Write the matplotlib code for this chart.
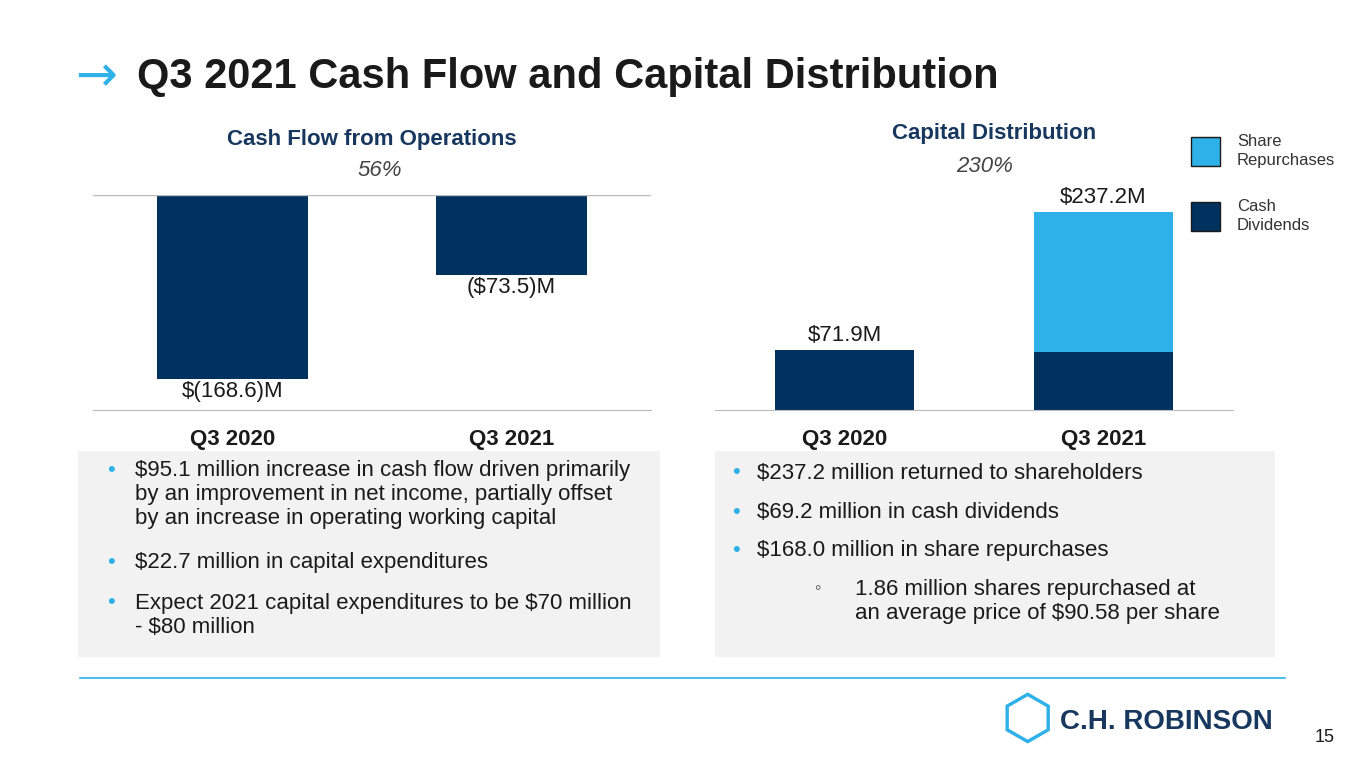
import matplotlib
matplotlib.use("Agg")
import matplotlib.pyplot as plt
from matplotlib.patches import Rectangle

NAVY = "#00325F"
LIGHT = "#2DB1E8"
GREY = "#F2F2F2"

periods = ["Q3 2020", "Q3 2021"]
cash_flow = [-168.6, -73.5]
cash_labels = ["$(168.6)M", "($73.5)M"]
dividends = [71.9, 69.2]
repurchases = [0.0, 168.0]
dist_labels = ["$71.9M", "$237.2M"]

left_bullets = [
    ("•", "$95.1 million increase in cash flow driven primarily\nby an improvement in net income, partially offset\nby an increase in operating working capital"),
    ("•", "$22.7 million in capital expenditures"),
    ("•", "Expect 2021 capital expenditures to be $70 million\n- $80 million"),
]
right_bullets = [
    ("•", "$237.2 million returned to shareholders", 0),
    ("•", "$69.2 million in cash dividends", 0),
    ("•", "$168.0 million in share repurchases", 0),
    ("◦", "1.86 million shares repurchased at\nan average price of $90.58 per share", 1),
]

W, H = 1365, 768
fig = plt.figure(figsize=(13.65, 7.68), dpi=100)
plt.rcParams["font.family"] = ["Liberation Sans", "DejaVu Sans"]

def fx(px): return px / W
def fy(py): return 1 - py / H

# title
fig.text(fx(75), fy(77), "→", fontsize=36, color=LIGHT, va="center", ha="left", family="DejaVu Sans")
fig.text(fx(137), fy(77), "Q3 2021 Cash Flow and Capital Distribution", fontsize=30,
         fontweight="bold", color="#1A1A1A", va="center")

# left chart
ax1 = fig.add_axes([fx(93), fy(410), fx(651) - fx(93), fy(195) - fy(410)])
x = [0, 1]
ax1.bar(x, cash_flow, width=0.54, color=NAVY)
ax1.set_xlim(-0.5, 1.5)
ax1.set_ylim(-197, 0)
ax1.axhline(0, color="#BBBBBB", lw=1)
for s in ["top", "left", "right"]:
    ax1.spines[s].set_visible(False)
ax1.spines["bottom"].set_color("#BBBBBB")
ax1.set_yticks([])
ax1.set_xticks(x)
ax1.set_xticklabels(periods, fontsize=16, fontweight="bold", color="#1A1A1A")
ax1.tick_params(axis="x", length=0, pad=14)
for i, v in enumerate(cash_flow):
    ax1.text(i, v - 2, cash_labels[i], ha="center", va="top", fontsize=16, color="#1A1A1A")
fig.text(fx(372), fy(139), "Cash Flow from Operations", ha="center", va="center",
         fontsize=16, fontweight="bold", color="#17375E")
fig.text(fx(380), fy(171), "56%", ha="center", va="center", fontsize=16, style="italic", color="#444444")

# right chart
ax2 = fig.add_axes([fx(715), fy(410), fx(1233) - fx(715), fy(195) - fy(410)])
ax2.bar(x, dividends, width=0.54, color=NAVY)
ax2.bar(x, repurchases, bottom=dividends, width=0.54, color=LIGHT)
ax2.set_xlim(-0.5, 1.5)
ax2.set_ylim(0, 258)
for s in ["top", "left", "right"]:
    ax2.spines[s].set_visible(False)
ax2.spines["bottom"].set_color("#BBBBBB")
ax2.set_yticks([])
ax2.set_xticks(x)
ax2.set_xticklabels(periods, fontsize=16, fontweight="bold", color="#1A1A1A")
ax2.tick_params(axis="x", length=0, pad=14)
for i in x:
    ax2.text(i, dividends[i] + repurchases[i] + 5, dist_labels[i], ha="center", va="bottom",
             fontsize=16, color="#1A1A1A")
fig.text(fx(994), fy(134), "Capital Distribution", ha="center", va="center",
         fontsize=16, fontweight="bold", color="#17375E")
fig.text(fx(985), fy(166), "230%", ha="center", va="center", fontsize=16, style="italic", color="#444444")

# legend
for py, c, lab in [(137, LIGHT, "Share\nRepurchases"), (202, NAVY, "Cash\nDividends")]:
    fig.patches.append(Rectangle((fx(1191), fy(py + 29)), fx(29), fy(0) - fy(29),
                                 transform=fig.transFigure, facecolor=c, edgecolor="#1A1A1A", lw=1))
    fig.text(fx(1237), fy(py + 14), lab, va="center", fontsize=12, color="#333333", linespacing=1.3)

# text boxes
fig.patches.append(Rectangle((fx(78), fy(657)), fx(660) - fx(78), fy(451) - fy(657),
                             transform=fig.transFigure, facecolor=GREY, edgecolor="none"))
fig.patches.append(Rectangle((fx(715), fy(657)), fx(1275) - fx(715), fy(451) - fy(657),
                             transform=fig.transFigure, facecolor=GREY, edgecolor="none"))
for py, (b, t) in zip([470, 562, 603], left_bullets):
    fig.text(fx(107), fy(py), b, va="center", fontsize=16, color=LIGHT)
    fig.text(fx(135), fy(py - 10), t, va="top", fontsize=16, color="#1A1A1A", linespacing=1.2)
for py, (b, t, lvl) in zip([473, 512, 550, 589], right_bullets):
    bx = 732 if lvl == 0 else 815
    tx = 757 if lvl == 0 else 855
    fig.text(fx(bx), fy(py), b, va="center", fontsize=16 if lvl == 0 else 13,
             color=LIGHT if lvl == 0 else "#333333")
    fig.text(fx(tx), fy(py - 10), t, va="top", fontsize=16, color="#1A1A1A", linespacing=1.2)

# footer
fig.add_artist(plt.Line2D([fx(80), fx(1285)], [fy(678), fy(678)], color=LIGHT, lw=1.2,
                          transform=fig.transFigure))
fig.text(fx(1060), fy(722), "C.H. ROBINSON", va="center", fontsize=20, fontweight="bold", color="#17375E")
fig.text(fx(1027), fy(722), "⬡", ha="center", va="center", fontsize=44, color=LIGHT, family="DejaVu Sans")
fig.text(fx(1325), fy(738), "15", ha="center", va="center", fontsize=13, color="#1A1A1A")

fig.savefig("out.png", dpi=100, facecolor="white")
